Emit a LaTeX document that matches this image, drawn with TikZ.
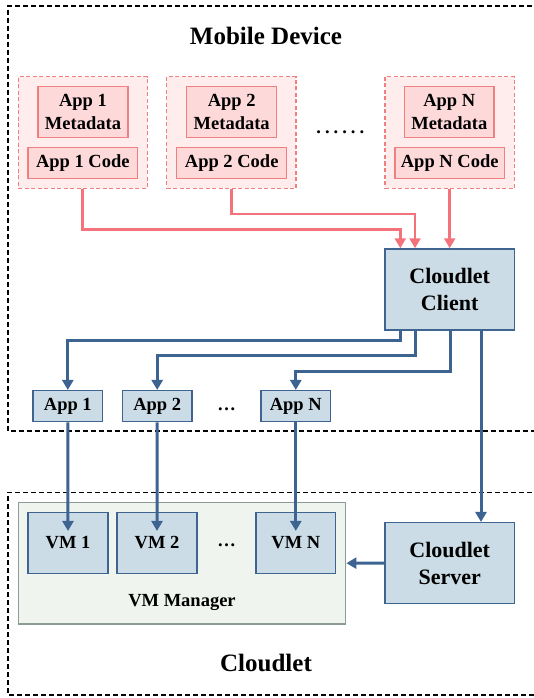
\documentclass[tikz,border=0pt]{standalone}
\usepackage{fontspec}
\setmainfont{Liberation Serif}
\usetikzlibrary{arrows.meta,calc}
\definecolor{pinkline}{HTML}{F4727A}
\definecolor{pinkfill}{HTML}{FFEDED}
\definecolor{pinkin}{HTML}{FDD9D9}
\definecolor{pinkborder}{HTML}{F08080}
\definecolor{bluefill}{HTML}{CBDCE6}
\definecolor{blueborder}{HTML}{3F6490}
\definecolor{blueline}{HTML}{3D6391}
\definecolor{vmmfill}{HTML}{EFF4EE}
\definecolor{vmmborder}{HTML}{8C9C94}
\tikzset{
  every node/.style={font=\bfseries, inner sep=0pt, align=center},
  fs/.style={font=\fontsize{18.5}{22.5}\selectfont\bfseries},
  fl/.style={font=\fontsize{22}{27}\selectfont\bfseries},
  ft/.style={font=\fontsize{25}{30}\selectfont\bfseries},
  outerbox/.style={draw=black, line width=1.4pt, dash pattern=on 5pt off 3pt},
  groupbox/.style={draw=pinkborder, fill=pinkfill, line width=1.4pt, dash pattern=on 4pt off 2.5pt},
  pinkbox/.style={draw=pinkborder, fill=pinkin, line width=1.5pt, fs},
  bluebox/.style={draw=blueborder, fill=bluefill, line width=1.5pt},
  vmmbox/.style={draw=vmmborder, fill=vmmfill, line width=1.5pt},
  parrow/.style={draw=pinkline, line width=2.8pt, -{Triangle[width=11pt,length=10pt]}},
  barrow/.style={draw=blueline, line width=3pt, -{Triangle[width=11pt,length=10pt]}},
}
\begin{document}
\begin{tikzpicture}[x=1pt,y=-1pt]
\useasboundingbox (0,0) rectangle (534,698);
% outer dashed regions
\draw[outerbox] (540,6) -- (8,6) -- (8,431) -- (540,431);
\draw[outerbox] (540,492.3) -- (8,492.3) -- (8,695) -- (540,695);
\node[ft] (mdtitle) at (266,36) {Mobile Device};
\node[ft] (cltitle) at (266,663) {Cloudlet};

% app groups
\node[groupbox, minimum width=129, minimum height=111.6] (g1) at (82.8,132.5) {};
\node[groupbox, minimum width=129.3, minimum height=111.6] (g2) at (231.3,132.5) {};
\node[groupbox, minimum width=129.3, minimum height=111.6] (gN) at (449.7,132.5) {};
\node[pinkbox, minimum width=90, minimum height=50.6] (m1) at (83,112) {App 1\\Metadata};
\node[pinkbox, minimum width=109.7, minimum height=31] (c1) at (82.8,162.8) {App 1 Code};
\node[pinkbox, minimum width=90, minimum height=50.6] (m2) at (231.7,112) {App 2\\Metadata};
\node[pinkbox, minimum width=110, minimum height=31] (c2) at (231.7,162.8) {App 2 Code};
\node[pinkbox, minimum width=89.3, minimum height=50.6] (mN) at (449.3,112) {App N\\Metadata};
\node[pinkbox, minimum width=109.3, minimum height=31] (cN) at (449.7,162.8) {App N Code};
\node[fs, anchor=base] (dots1) at (340.3,133.5) {.\hspace{4pt}.\hspace{4pt}.\hspace{4pt}.\hspace{4pt}.\hspace{4pt}.};

% cloudlet client
\node[bluebox, fl, minimum width=129.3, minimum height=81] (client) at (449.7,289.5) {Cloudlet\\Client};

% apps
\node[bluebox, fs, minimum width=69.7, minimum height=31] (a1) at (67.8,406.2) {App 1};
\node[bluebox, fs, minimum width=69.7, minimum height=31] (a2) at (157.2,406.2) {App 2};
\node[bluebox, fs, minimum width=69.7, minimum height=31] (aN) at (295.8,406.2) {App N};
\node[fs, anchor=base] (dots2) at (226.7,410) {…};

% VM manager
\node[vmmbox, minimum width=327.4, minimum height=121.7] (vmm) at (182,563.2) {};
\node[fs] (vmmlabel) at (182,602.7) {VM Manager};
\node[bluebox, fs, minimum width=80, minimum height=61] (v1) at (68,542.8) {VM 1};
\node[bluebox, fs, minimum width=80, minimum height=61] (v2) at (157,542.8) {VM 2};
\node[bluebox, fs, minimum width=79.7, minimum height=61] (vN) at (295.8,542.8) {VM N};
\node[fs, anchor=base] (dots3) at (226.7,546.5) {…};

% server
\node[bluebox, fl, minimum width=129.3, minimum height=80.6] (server) at (449.7,563) {Cloudlet\\Server};

% pink arrows
\draw[parrow] (g1.south) -- ++(0,40.7) -| ([xshift=-49.4pt]client.north);
\draw[parrow] (g2.south) -- ++(0,25) -| ([xshift=-34.7pt]client.north);
\draw[parrow] (gN.south) -- (client.north);

% blue arrows
\draw[barrow] ([xshift=-49.4pt]client.south) -- ++(0,10) -| (a1.north);
\draw[barrow] ([xshift=-34.7pt]client.south) -- ++(0,25) -| (a2.north);
\draw[barrow] ([xshift=0.3pt]client.south) -- ++(0,40.7) -| (aN.north);
\draw[barrow] ([xshift=31.3pt]client.south) -- ([xshift=31.3pt]server.north);
\draw[barrow] (a1.south) -- ($(v1.north)+(0,19.4)$);
\draw[barrow] (a2.south) -- ($(v2.north)+(0,19.4)$);
\draw[barrow] (aN.south) -- ($(vN.north)+(0,19.4)$);
\draw[barrow] (server.west) -- (vmm.east);
\end{tikzpicture}
\end{document}
